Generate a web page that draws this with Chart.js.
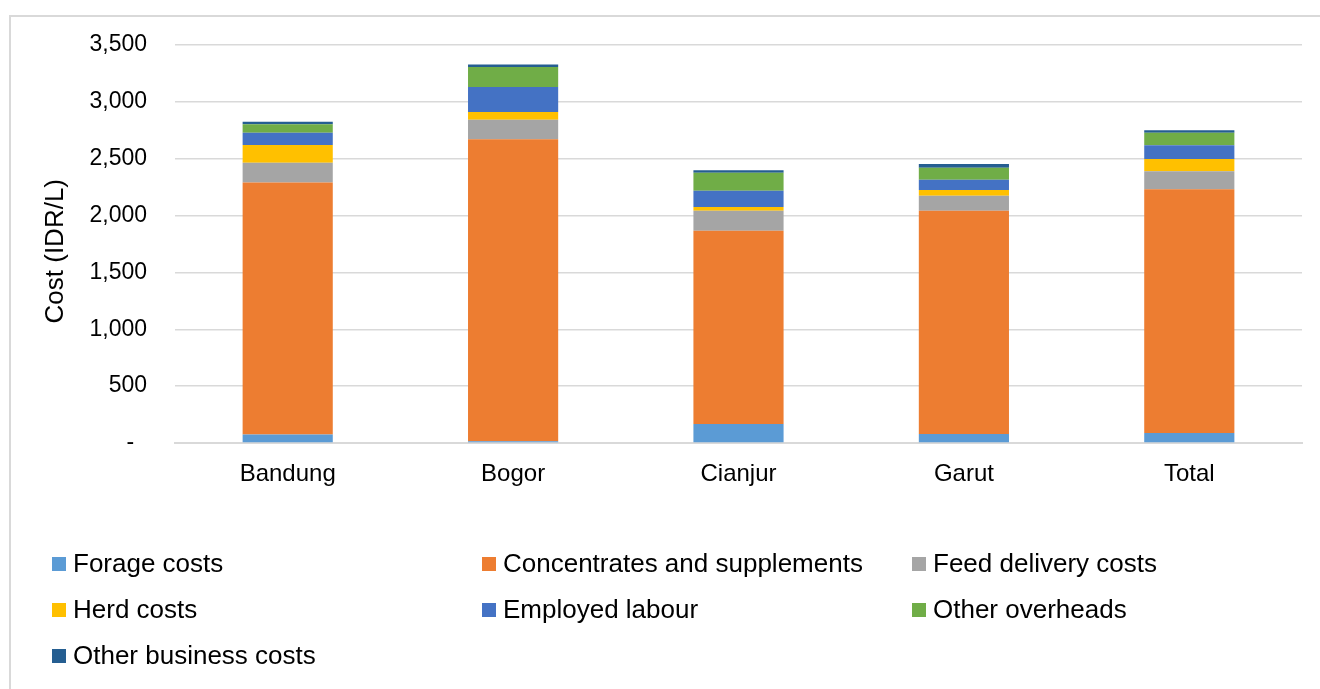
<!DOCTYPE html>
<html>
<head>
<meta charset="utf-8">
<script src="https://cdn.jsdelivr.net/npm/chart.js@4"></script>
<style>
  body { margin: 0; background: #fff; overflow: hidden; }
  #wrap { position: relative; width: 1320px; height: 689px; }
  #frame { position: absolute; left: 9px; top: 15px; width: 1400px; height: 800px; border: 2px solid #d9d9d9; box-sizing: border-box; }
  #chartBox { position: absolute; left: 0; top: 0; width: 1320px; height: 689px; }
  .leg { position: absolute; font-family: "Liberation Sans", Arial, sans-serif; font-size: 26px; color: #000; white-space: nowrap; line-height: 30px; }
  .leg span.box { display: inline-block; width: 14px; height: 14px; margin-right: 7px; vertical-align: 1px; }
</style>
</head>
<body>
<div id="wrap">
  <div id="frame"></div>
  <div id="chartBox"><canvas id="costChart"></canvas></div>
  <div id="legend"></div>
</div>
<script>
// Districts on the x axis
const regions = ['Bandung', 'Bogor', 'Cianjur', 'Garut', 'Total'];

// Cost components (IDR per litre)
const forage = [75, 15, 167, 79, 88];
const concentrates = [2216, 2656, 1700, 1964, 2143];
const feedDelivery = [174, 172, 176, 132, 158];
const herdCosts = [156, 68, 32, 50, 109];
const employedLabour = [108, 220, 144, 91, 120];
const otherOverheads = [73, 176, 158, 105, 111];
const otherBusiness = [24, 22, 21, 33, 21];

const yTicks = [0, 500, 1000, 1500, 2000, 2500, 3000, 3500];

const seriesNames = ['Forage costs', 'Concentrates and supplements', 'Feed delivery costs',
  'Herd costs', 'Employed labour', 'Other overheads', 'Other business costs'];
const seriesData = [forage, concentrates, feedDelivery, herdCosts, employedLabour, otherOverheads, otherBusiness];
const seriesColors = ['#5B9BD5', '#ED7D31', '#A5A5A5', '#FFC000', '#4472C4', '#70AD47', '#255E91'];

Chart.defaults.font.family = '"Liberation Sans", Arial, sans-serif';
Chart.defaults.color = '#000';

const datasets = seriesNames.map(function(name, i) {
  return {
    label: name,
    data: seriesData[i],
    backgroundColor: seriesColors[i],
    borderWidth: 0,
    barPercentage: 1,
    categoryPercentage: 0.4
  };
});

const ctx = document.getElementById('costChart').getContext('2d');
const costChart = new Chart(ctx, {
  type: 'bar',
  data: { labels: regions, datasets: datasets },
  options: {
    responsive: true,
    maintainAspectRatio: false,
    animation: false,
    layout: { padding: { top: 45, right: 18, bottom: 0, left: 0 } },
    plugins: {
      legend: { display: false },
      tooltip: { enabled: false }
    },
    scales: {
      x: {
        stacked: true,
        grid: { display: false },
        border: { display: true, color: '#d9d9d9', width: 2 },
        ticks: { font: { size: 24 }, padding: 9, color: '#000' },
        afterFit: function(scale) { scale.height = 689 - 443; }
      },
      y: {
        stacked: true,
        min: yTicks[0],
        max: yTicks[yTicks.length - 1],
        afterBuildTicks: function(scale) {
          scale.ticks = yTicks.map(function(v) { return { value: v }; });
        },
        grid: { color: '#d9d9d9', lineWidth: 1.5, drawTicks: false },
        border: { display: false },
        ticks: {
          font: { size: 23 },
          padding: 28,
          color: '#000',
          callback: function(v) { return v === 0 ? '-  ' : v.toLocaleString('en-US'); }
        },
        title: {
          display: true,
          text: 'Cost (IDR/L)  ', // trailing spaces nudge it down a bit
          font: { size: 26 },
          padding: { top: 40, bottom: 0 }
        },
        afterFit: function(scale) { scale.width = 175; }
      }
    }
  }
});

// Legend in three fixed columns, like the original
const legendBox = document.getElementById('legend');
seriesNames.forEach(function(name, i) {
  const item = document.createElement('div');
  item.className = 'leg';
  item.style.left = (52 + (i % 3) * 430) + 'px';
  item.style.top = (548 + Math.floor(i / 3) * 46) + 'px';
  item.innerHTML = '<span class="box" style="background:' + seriesColors[i] + '"></span>' + name;
  legendBox.appendChild(item);
});
</script>
</body>
</html>
